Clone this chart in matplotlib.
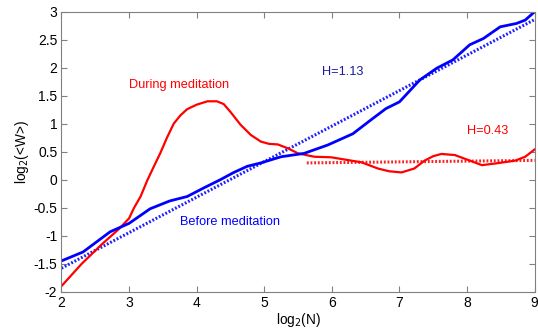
import matplotlib
matplotlib.use("Agg")
import matplotlib.pyplot as plt

plt.rcParams['font.family'] = ['Liberation Sans', 'DejaVu Sans']

# During meditation (red)
during_x = [2.0, 2.3, 2.6, 2.85, 3.0, 3.07, 3.17, 3.27, 3.36, 3.46, 3.56, 3.66, 3.76, 3.86, 4.0,
            4.16, 4.3, 4.4, 4.5, 4.65, 4.8, 4.95, 5.07, 5.2, 5.35, 5.5, 5.74, 5.99, 6.24, 6.44,
            6.68, 6.85, 7.03, 7.22, 7.37, 7.5, 7.62, 7.82, 8.02, 8.22, 8.42, 8.71, 8.86, 9.0]
during_y = [-1.9, -1.5, -1.15, -0.88, -0.69, -0.51, -0.3, -0.01, 0.22, 0.47, 0.75, 1.0, 1.15, 1.26, 1.34,
            1.40, 1.40, 1.35, 1.21, 0.98, 0.8, 0.68, 0.64, 0.63, 0.56, 0.47, 0.41, 0.40, 0.35, 0.31,
            0.20, 0.15, 0.13, 0.20, 0.34, 0.42, 0.46, 0.44, 0.35, 0.26, 0.29, 0.34, 0.41, 0.54]

# Before meditation (blue)
before_x = [2.0, 2.32, 2.72, 3.0, 3.31, 3.6, 3.86, 4.1, 4.35, 4.55, 4.75, 4.95, 5.25, 5.59, 5.94,
            6.31, 6.58, 6.8, 7.0, 7.3, 7.55, 7.79, 8.04, 8.24, 8.49, 8.73, 8.86, 9.0]
before_y = [-1.45, -1.29, -0.93, -0.78, -0.52, -0.38, -0.3, -0.15, 0.0, 0.13, 0.24, 0.30, 0.41, 0.47, 0.62,
            0.82, 1.07, 1.27, 1.39, 1.78, 1.99, 2.14, 2.41, 2.52, 2.73, 2.79, 2.85, 3.0]

# Fits
fit_before_x = [2.0, 9.0]
fit_before_y = [-1.58, 2.86]
fit_during_x = [5.63, 9.0]
fit_during_y = [0.30, 0.345]

xticks = [2, 3, 4, 5, 6, 7, 8, 9]
yticks = [-2, -1.5, -1, -0.5, 0, 0.5, 1, 1.5, 2, 2.5, 3]

fig = plt.figure(figsize=(5.38, 3.28), dpi=100)
ax = fig.add_axes([0.1143, 0.1107, 0.8795, 0.8536])

ax.plot(fit_before_x, fit_before_y, color='#2020ff', lw=2.2, ls=(0, (0.6, 0.6)))
ax.plot(fit_during_x, fit_during_y, color='#ff2020', lw=2.2, ls=(0, (0.6, 0.6)))
ax.plot(during_x, during_y, color='#ff0000', lw=1.6)
ax.plot(before_x, before_y, color='#0000ff', lw=2.0)

ax.text(3.74, 1.7, 'During meditation', color='#ff0000', fontsize=9.2, ha='center', va='center')
ax.text(6.16, 1.93, 'H=1.13', color='#1a1a9a', fontsize=9.2, ha='center', va='center')
ax.text(8.3, 0.87, 'H=0.43', color='#ff0000', fontsize=9.2, ha='center', va='center')
ax.text(4.5, -0.76, 'Before meditation', color='#0000ff', fontsize=9.2, ha='center', va='center')

ax.set_xlim(2, 9)
ax.set_ylim(-2, 3)
ax.set_xticks(xticks)
ax.set_xticklabels([str(t) for t in xticks])
ax.set_yticks(yticks)
ax.set_yticklabels([('%g' % t) for t in yticks])
ax.tick_params(direction='in', top=True, right=True, length=4, color='#808080', labelsize=10, pad=3)
for s in ax.spines.values():
    s.set_color('#808080')
    s.set_linewidth(0.8)

ax.set_xlabel('log$_2$(N)', fontsize=9.8, labelpad=1)
ax.set_ylabel('log$_2$(<W>)', fontsize=9.8, labelpad=2)

fig.savefig('out.png', dpi=100)
